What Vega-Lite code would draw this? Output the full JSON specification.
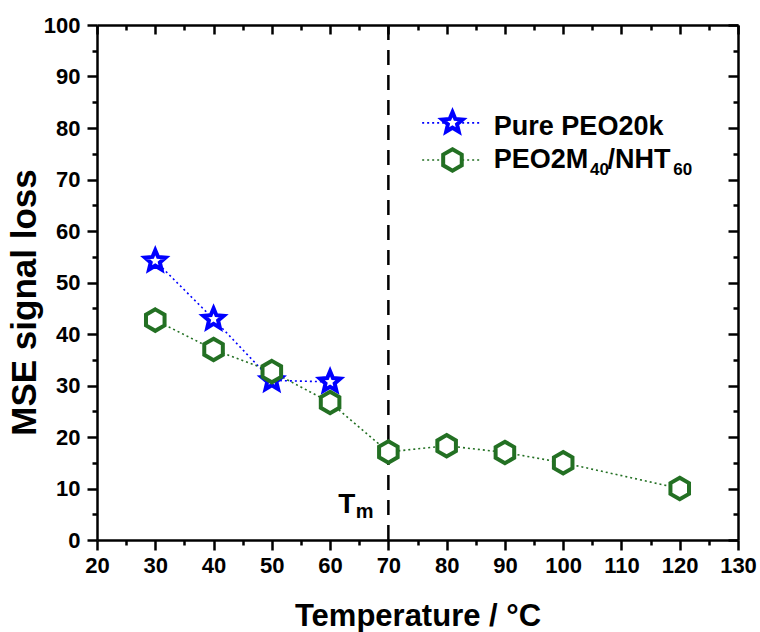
{
  "$schema": "https://vega.github.io/schema/vega-lite/v6.json",
  "width": 641,
  "height": 515,
  "autosize": {"type": "none"},
  "padding": {"left": 97, "top": 25, "right": 22, "bottom": 92},
  "background": "white",
  "config": {
    "view": {"stroke": null},
    "font": "Liberation Sans",
    "axis": {
      "grid": false,
      "domainColor": "black",
      "domainWidth": 2.5,
      "tickColor": "black",
      "tickWidth": 2.5,
      "labelFont": "Liberation Sans",
      "labelFontSize": 22,
      "labelFontWeight": "bold",
      "labelColor": "black",
      "labelOverlap": false,
      "labelFlush": false,
      "titleFont": "Liberation Sans",
      "titleFontWeight": "bold",
      "titleColor": "black"
    }
  },
  "datasets": {
    "series": [
      {"series": "Pure PEO20k", "temp": 30, "loss": 54.2},
      {"series": "Pure PEO20k", "temp": 40, "loss": 42.9},
      {"series": "Pure PEO20k", "temp": 50, "loss": 31.0},
      {"series": "Pure PEO20k", "temp": 60, "loss": 30.7},
      {"series": "PEO2M40/NHT60", "temp": 30, "loss": 42.7},
      {"series": "PEO2M40/NHT60", "temp": 40, "loss": 37.0},
      {"series": "PEO2M40/NHT60", "temp": 50, "loss": 32.7},
      {"series": "PEO2M40/NHT60", "temp": 60, "loss": 26.7},
      {"series": "PEO2M40/NHT60", "temp": 70, "loss": 17.1},
      {"series": "PEO2M40/NHT60", "temp": 80, "loss": 18.3},
      {"series": "PEO2M40/NHT60", "temp": 90, "loss": 17.0},
      {"series": "PEO2M40/NHT60", "temp": 100, "loss": 15.0},
      {"series": "PEO2M40/NHT60", "temp": 120, "loss": 10.0}
    ],
    "melting": [{"temp": 70, "lo": 0, "hi": 100}],
    "legendRows": [
      {"series": "Pure PEO20k", "x0": 75.8, "x1": 85.7, "xm": 81.0, "y": 81.0},
      {"series": "PEO2M40/NHT60", "x0": 75.8, "x1": 85.7, "xm": 81.0, "y": 73.8}
    ],
    "notes": [
      {"txt": "Pure PEO20k", "x": 88.1, "y": 78.6, "role": "label"},
      {"txt": "PEO2M", "x": 88.1, "y": 72.2, "role": "label"},
      {"txt": "40", "x": 104.6, "y": 70.9, "role": "sub"},
      {"txt": "/NHT", "x": 107.6, "y": 72.2, "role": "label"},
      {"txt": "60", "x": 118.9, "y": 70.9, "role": "sub"},
      {"txt": "T", "x": 61.4, "y": 5.2, "role": "tm"},
      {"txt": "m", "x": 64.4, "y": 4.3, "role": "tmsub"}
    ]
  },
  "resolve": {"axis": {"x": "independent", "y": "independent"}},
  "layer": [
    {
      "data": {"name": "melting"},
      "mark": {"type": "rule", "color": "black", "strokeWidth": 2.5, "strokeDash": [15, 10]},
      "encoding": {
        "x": {
          "field": "temp",
          "type": "quantitative",
          "scale": {"domain": [20, 130], "nice": false},
          "axis": {
            "orient": "bottom",
            "values": [20, 25, 30, 35, 40, 45, 50, 55, 60, 65, 70, 75, 80, 85, 90, 95, 100, 105, 110, 115, 120, 125, 130],
            "labelExpr": "datum.value % 10 === 0 ? datum.label : ''",
            "tickSize": {"condition": {"test": "datum.value % 10 === 0", "value": 10}, "value": 5},
            "labelPadding": 5,
            "title": "Temperature / °C",
            "titleFontSize": 31,
            "titleBaseline": "alphabetic",
            "titleY": 85
          }
        },
        "y": {
          "field": "lo",
          "type": "quantitative",
          "scale": {"domain": [0, 100], "nice": false},
          "axis": {
            "orient": "left",
            "values": [0, 5, 10, 15, 20, 25, 30, 35, 40, 45, 50, 55, 60, 65, 70, 75, 80, 85, 90, 95, 100],
            "labelExpr": "datum.value % 10 === 0 ? datum.label : ''",
            "tickSize": {"condition": {"test": "datum.value % 10 === 0", "value": 10}, "value": 5},
            "labelPadding": 7,
            "title": "MSE signal loss",
            "titleFontSize": 35,
            "titleBaseline": "alphabetic",
            "titleAngle": -90,
            "titleX": -62,
            "titleY": 277
          }
        },
        "y2": {"field": "hi"}
      }
    },
    {
      "data": {"name": "series"},
      "mark": {"type": "line", "strokeWidth": 1.6, "strokeDash": [2, 3]},
      "encoding": {
        "x": {
          "field": "temp",
          "type": "quantitative",
          "axis": {
            "orient": "top",
            "values": [20, 25, 30, 35, 40, 45, 50, 55, 60, 65, 70, 75, 80, 85, 90, 95, 100, 105, 110, 115, 120, 125, 130],
            "labels": false,
            "title": null,
            "tickSize": {"condition": {"test": "datum.value % 10 === 0", "value": -9}, "value": -5}
          }
        },
        "y": {
          "field": "loss",
          "type": "quantitative",
          "axis": {
            "orient": "right",
            "values": [0, 5, 10, 15, 20, 25, 30, 35, 40, 45, 50, 55, 60, 65, 70, 75, 80, 85, 90, 95, 100],
            "labels": false,
            "title": null,
            "tickSize": {"condition": {"test": "datum.value % 10 === 0", "value": -10}, "value": -5}
          }
        },
        "color": {
          "field": "series",
          "type": "nominal",
          "scale": {"domain": ["Pure PEO20k", "PEO2M40/NHT60"], "range": ["#0000ff", "#237023"]},
          "legend": null
        }
      }
    },
    {
      "data": {"name": "series"},
      "mark": {"type": "point", "fill": "white", "strokeWidth": 4, "opacity": 1},
      "encoding": {
        "x": {"field": "temp", "type": "quantitative", "axis": null},
        "y": {"field": "loss", "type": "quantitative", "axis": null},
        "stroke": {
          "field": "series",
          "type": "nominal",
          "scale": {"domain": ["Pure PEO20k", "PEO2M40/NHT60"], "range": ["#0000ff", "#237023"]},
          "legend": null
        },
        "shape": {
          "field": "series",
          "type": "nominal",
          "scale": {
            "domain": ["Pure PEO20k", "PEO2M40/NHT60"],
            "range": [
              "M0,-1L0.2645,-0.3641L0.9511,-0.309L0.428,0.1391L0.5878,0.809L0,0.45L-0.5878,0.809L-0.428,0.1391L-0.9511,-0.309L-0.2645,-0.3641Z",
              "M0,-1L0.866,-0.5L0.866,0.5L0,1L-0.866,0.5L-0.866,-0.5Z"
            ]
          },
          "legend": null
        },
        "size": {"value": 460}
      }
    },
    {
      "data": {"name": "legendRows"},
      "mark": {"type": "rule", "strokeWidth": 1.6, "strokeDash": [2, 3]},
      "encoding": {
        "x": {"field": "x0", "type": "quantitative", "axis": null},
        "x2": {"field": "x1"},
        "y": {"field": "y", "type": "quantitative", "axis": null},
        "color": {"field": "series", "type": "nominal", "legend": null}
      }
    },
    {
      "data": {"name": "legendRows"},
      "mark": {"type": "point", "fill": "white", "strokeWidth": 4, "opacity": 1},
      "encoding": {
        "x": {"field": "xm", "type": "quantitative", "axis": null},
        "y": {"field": "y", "type": "quantitative", "axis": null},
        "stroke": {"field": "series", "type": "nominal", "legend": null},
        "shape": {"field": "series", "type": "nominal", "legend": null},
        "size": {"value": 460}
      }
    },
    {
      "data": {"name": "notes"},
      "transform": [{"filter": "datum.role === 'label'"}],
      "mark": {"type": "text", "align": "left", "baseline": "alphabetic", "fontWeight": "bold", "font": "Liberation Sans", "color": "black", "fontSize": 27},
      "encoding": {
        "x": {"field": "x", "type": "quantitative", "axis": null},
        "y": {"field": "y", "type": "quantitative", "axis": null},
        "text": {"field": "txt"}
      }
    },
    {
      "data": {"name": "notes"},
      "transform": [{"filter": "datum.role === 'sub'"}],
      "mark": {"type": "text", "align": "left", "baseline": "alphabetic", "fontWeight": "bold", "font": "Liberation Sans", "color": "black", "fontSize": 17},
      "encoding": {
        "x": {"field": "x", "type": "quantitative", "axis": null},
        "y": {"field": "y", "type": "quantitative", "axis": null},
        "text": {"field": "txt"}
      }
    },
    {
      "data": {"name": "notes"},
      "transform": [{"filter": "datum.role === 'tm'"}],
      "mark": {"type": "text", "align": "left", "baseline": "alphabetic", "fontWeight": "bold", "font": "Liberation Sans", "color": "black", "fontSize": 28},
      "encoding": {
        "x": {"field": "x", "type": "quantitative", "axis": null},
        "y": {"field": "y", "type": "quantitative", "axis": null},
        "text": {"field": "txt"}
      }
    },
    {
      "data": {"name": "notes"},
      "transform": [{"filter": "datum.role === 'tmsub'"}],
      "mark": {"type": "text", "align": "left", "baseline": "alphabetic", "fontWeight": "bold", "font": "Liberation Sans", "color": "black", "fontSize": 20},
      "encoding": {
        "x": {"field": "x", "type": "quantitative", "axis": null},
        "y": {"field": "y", "type": "quantitative", "axis": null},
        "text": {"field": "txt"}
      }
    }
  ]
}
